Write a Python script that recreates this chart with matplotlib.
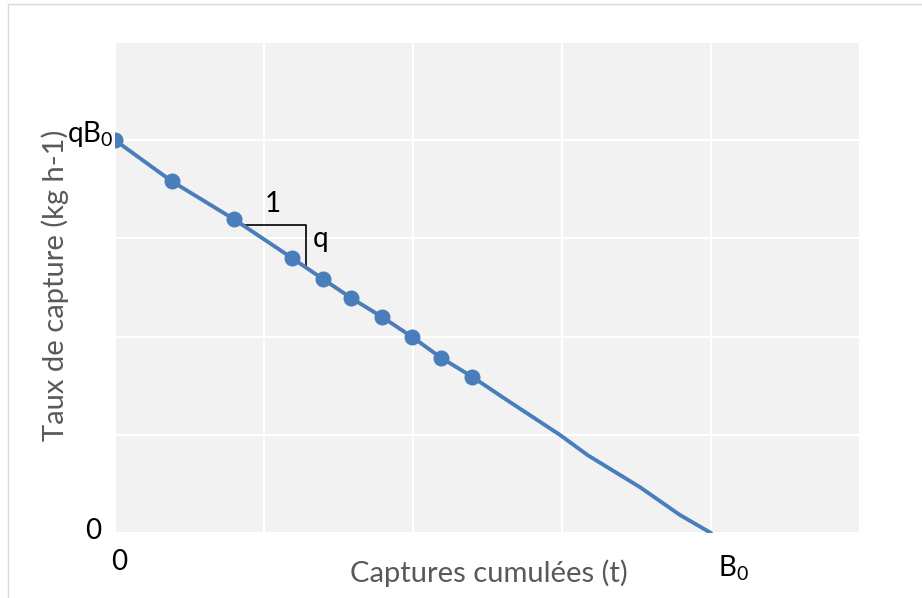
import matplotlib
matplotlib.use("Agg")
import matplotlib.pyplot as plt
from matplotlib.patches import Rectangle

# Courbe (captures cumulées, taux de capture) ; unités arbitraires, B0 = 4, qB0 = 4
curve_x = [0.0, 0.383, 0.799, 1.188, 1.396, 1.584, 1.792, 1.993, 2.188, 2.396,
           2.604, 2.987, 3.174, 3.523, 3.792, 4.0]
curve_y = [4.0, 3.58, 3.195, 2.80, 2.586, 2.394, 2.20, 1.998, 1.785, 1.592,
           1.38, 0.998, 0.791, 0.467, 0.183, 0.0]
# points observés (avec marqueurs)
obs_x = curve_x[:10]
obs_y = curve_y[:10]

B0 = 4.0
qB0 = 4.0
# triangle de pente
tri_x = [0.85, 1.28, 1.28]
tri_y = [3.134, 3.134, 2.708]

blue = "#4a7ebb"
grey_txt = "#595959"

plt.rcParams['font.family'] = ['Lato', 'DejaVu Sans']

fig = plt.figure(figsize=(9.22, 5.98), dpi=100)
fig.patches.append(Rectangle((8/922, -0.1), 1.2, 1 - 4/598 + 0.1,
                             transform=fig.transFigure, fill=False,
                             edgecolor="#d9d9d9", linewidth=1))
ax = fig.add_axes([115/922, 65/598, 745/922, 491/598])
ax.set_facecolor("#f2f2f2")
ax.set_xlim(0, 5)
ax.set_ylim(0, 5)
ax.set_xticks(range(6))
ax.set_yticks(range(6))
ax.grid(True, color="white", linewidth=1.5)
ax.set_axisbelow(True)
ax.tick_params(length=0, labelbottom=False, labelleft=False)
for s in ax.spines.values():
    s.set_visible(False)

ax.plot(curve_x, curve_y, color=blue, linewidth=2.8, solid_capstyle="round", zorder=3)
ax.plot(obs_x, obs_y, "o", color=blue, markersize=10.5, zorder=4)
ax.plot(tri_x, tri_y, color="black", linewidth=1.2, zorder=2)

fs = 20
ax.text(1.06, 3.22, "1", fontsize=fs, ha="center", va="bottom")
ax.text(1.33, 2.99, "q", fontsize=fs, ha="left", va="center")

ax.text(-0.01, qB0 + 0.06, r"qB$\mathregular{_0}$", fontsize=fs, ha="right", va="center")
ax.text(-0.09, 0.02, "0", fontsize=fs, ha="right", va="center")
ax.text(0.03, -0.30, "0", fontsize=fs, ha="center", va="center")
ax.text(B0 + 0.15, -0.36, r"B$\mathregular{_0}$", fontsize=fs, ha="center", va="center")

ax.set_xlabel("Captures cumulées (t)", fontsize=21, color=grey_txt)
ax.set_ylabel("Taux de capture (kg h-1)", fontsize=21, color=grey_txt)
ax.xaxis.set_label_coords(0.502, -0.081)
ax.yaxis.set_label_coords(-0.0805, 0.505)
ax.xaxis.label.set_va("center")
ax.yaxis.label.set_va("center")

fig.savefig("out.png", dpi=100)
